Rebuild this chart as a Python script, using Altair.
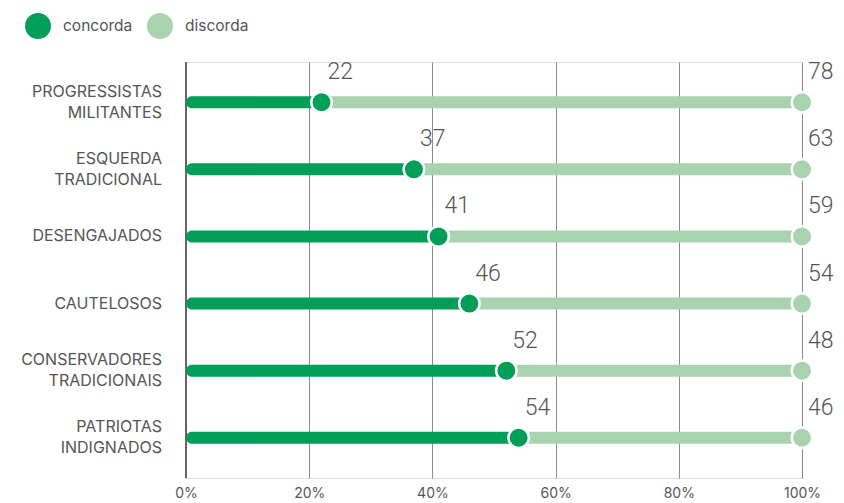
import altair as alt
import pandas as pd

categories = ["PROGRESSISTAS\nMILITANTES", "ESQUERDA\nTRADICIONAL", "DESENGAJADOS",
              "CAUTELOSOS", "CONSERVADORES\nTRADICIONAIS", "PATRIOTAS\nINDIGNADOS"]
concorda = [22, 37, 41, 46, 52, 54]
discorda = [78, 63, 59, 54, 48, 46]
x_ticks = [0, 20, 40, 60, 80, 100]

DARK = "#009E57"
LIGHT = "#A8D3AE"
TEXT = "#555555"
FONT = "Inter"

LEFT = 178
W, H = 616, 416
STEP = H / (6 + 0.2)

df = pd.DataFrame({"cat": categories, "concorda": concorda, "discorda": discorda})
df["total"] = df["concorda"] + df["discorda"]

# category label lines (built from the category list)
rows = []
for c in categories:
    parts = c.split("\n")
    n = len(parts)
    for i, p in enumerate(parts):
        rows.append({"cat": c, "line": p, "off": STEP / 2 + (i - (n - 1) / 2) * 21})
lab_df = pd.DataFrame(rows)

legend_df = pd.DataFrame({"serie": ["concorda", "discorda"]})

ysc = alt.Scale(paddingInner=0, paddingOuter=0.1)
yenc = alt.Y("cat:N", sort=categories, scale=ysc, axis=None)
xscale = alt.Scale(domain=[0, 100], nice=False, zero=True)
xaxis = alt.Axis(title=None, values=x_ticks, labelExpr="datum.value + '%'",
                 domain=False, ticks=False, grid=True, gridColor="#8a8a8a",
                 gridWidth=1, labelFont=FONT, labelFontSize=14, labelColor=TEXT,
                 labelPadding=8, labelFlush=False)

base = alt.Chart(df)

dark_bar = base.mark_bar(color=DARK, height=12, cornerRadiusTopLeft=6,
                         cornerRadiusBottomLeft=6).encode(
    x=alt.X("zero:Q", scale=xscale, axis=xaxis),
    x2="concorda:Q", y=yenc
).transform_calculate(zero="0")

light_bar = base.mark_bar(color=LIGHT, height=12).encode(
    x=alt.X("concorda:Q", scale=xscale), x2="total:Q", y=yenc
)

zero_line = base.mark_rule(color="#666666", strokeWidth=1.5).encode(
    x=alt.datum(0), y=alt.value(0), y2=alt.value(H)
)

dot_light = base.mark_circle(size=420, color=LIGHT, opacity=1, stroke="white",
                             strokeWidth=2.5).encode(
    x=alt.X("total:Q", scale=xscale), y=yenc)
dot_dark = base.mark_circle(size=420, color=DARK, opacity=1, stroke="white",
                            strokeWidth=2.5).encode(
    x=alt.X("concorda:Q", scale=xscale), y=yenc)

txt_kw = dict(align="left", baseline="alphabetic", dx=6, dy=-23,
              font="Roboto", fontSize=23, fontWeight=300, color=TEXT)
lab_dark = base.mark_text(**txt_kw).encode(
    x=alt.X("concorda:Q", scale=xscale), y=yenc, text="concorda:Q")
lab_light = base.mark_text(**txt_kw).encode(
    x=alt.X("total:Q", scale=xscale), y=yenc, text="discorda:Q")

cat_labels = alt.Chart(lab_df).mark_text(
    align="right", baseline="middle", font=FONT, fontSize=16, color=TEXT
).encode(
    x=alt.value(-24), y=yenc,
    yOffset=alt.YOffset("off:Q", scale=None),
    text="line:N"
)

legend_layer = alt.Chart(legend_df).mark_circle(size=0, opacity=0).encode(
    color=alt.Color("serie:N", scale=alt.Scale(domain=["concorda", "discorda"],
                                                range=[DARK, LIGHT]),
                    legend=alt.Legend(title=None, orient="none", direction="horizontal",
                                      legendX=25 - 8 - LEFT, legendY=-49,
                                      symbolType="circle",
                                      symbolSize=676, symbolOpacity=1,
                                      symbolStrokeWidth=0,
                                      labelFont=FONT, labelFontSize=15.5,
                                      labelColor=TEXT, labelOffset=12,
                                      columnPadding=14))
)

chart = alt.layer(zero_line, dark_bar, light_bar, dot_light, dot_dark,
                  lab_dark, lab_light, cat_labels, legend_layer).properties(
    width=W, height=H,
    autosize=alt.AutoSizeParams(type="none"),
    padding={"left": LEFT, "top": 54, "right": 828 - LEFT - W, "bottom": 25}
).configure_view(stroke=None).configure(background="white")

chart.save("out.html", embed_options={"renderer": "svg", "actions": False})
